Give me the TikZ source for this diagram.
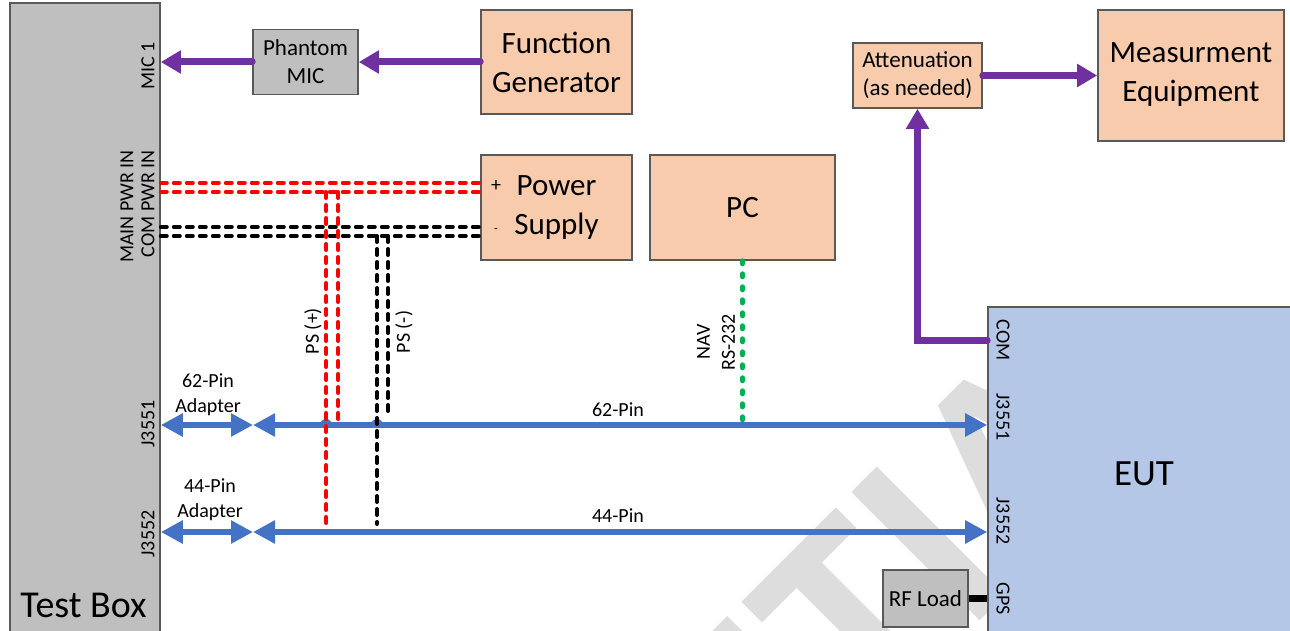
\documentclass[tikz,border=0pt]{standalone}
\usepackage{fontspec}
\setmainfont{Carlito}
\usetikzlibrary{arrows.meta}

\definecolor{boxpeach}{HTML}{F8CBAD}
\definecolor{boxgray}{HTML}{BFBFBF}
\definecolor{eutblue}{HTML}{B4C7E7}
\definecolor{rimgray}{HTML}{595959}
\definecolor{sigpurple}{HTML}{7030A0}
\definecolor{cableblue}{HTML}{4472C4}
\definecolor{navgreen}{HTML}{00B050}
\definecolor{markgray}{HTML}{DDDDDD}

\tikzset{
  unit/.style={draw=rimgray, line width=0.8pt, fill=boxpeach, align=center,
    inner sep=0pt, font=\fontsize{15.5}{19.5}\selectfont},
  graybox/.style={unit, fill=boxgray},
  small/.style={font=\fontsize{10}{12.5}\selectfont, align=center, inner sep=0pt},
  port/.style={small, rotate=90},
  eutport/.style={small, rotate=-90},
  sig/.style={draw=sigpurple, line width=3.5pt, line cap=round,
    -{Triangle[length=10pt,width=11pt]}},
  cable/.style={draw=cableblue, line width=3pt,
    {Triangle[length=11pt,width=11pt]}-{Triangle[length=11pt,width=11pt]}},
  pwrpos/.style={draw=red, line width=2pt, line cap=round, dash pattern=on 3pt off 3.5pt},
  pwrneg/.style={pwrpos, draw=black},
  serial/.style={draw=navgreen, line width=2.5pt, line cap=round, dash pattern=on 1.5pt off 5pt},
}

\begin{document}
\begin{tikzpicture}[x=0.5pt, y=-0.5pt]
  \useasboundingbox (0,0) rectangle (1290,631);
  \clip (0,0) rectangle (1290,631);

  % watermark behind everything, only left of the EUT
  \begin{scope}
    \clip (0,0) rectangle (988,631);
    \node[rotate=45, anchor=base west, inner sep=0pt, text=markgray,
      font=\fontsize{140}{140}\selectfont\bfseries] (mark) at (868,733) {\llap{N}TIAL};
  \end{scope}

  % test box and its ports
  \node[graybox, minimum width=75pt, minimum height=321pt] (testbox) at (85,324) {};
  \node[font=\fontsize{19}{22}\selectfont, anchor=base west, inner sep=0pt] (tblabel) at (20,617) {Test Box};
  \node[port] (mic) at (148,66) {MIC 1};
  \node[port, anchor=east] (mainpwr) at (127,150) {MAIN PWR IN};
  \node[port, anchor=east] (compwr) at (148,150) {COM PWR IN};
  \node[port] (tb51) at (148,424) {J3551};
  \node[port] (tb52) at (148,534) {J3552};

  % equipment
  \node[graybox, font=\fontsize{11.5}{14}\selectfont, minimum width=52.5pt, minimum height=32.5pt] (phantom) at (305.5,62) {Phantom\\MIC};
  \node[unit, minimum width=75.5pt, minimum height=52pt] (funcgen) at (556.5,62) {Function\\Generator};
  \node[unit, minimum width=75.5pt, minimum height=52.5pt, text depth=2pt] (psu) at (556.5,207.5) {Power\\Supply};
  \node[font=\fontsize{10}{12}\selectfont, inner sep=0pt] (plus) at (496,186) {+};
  \node[font=\fontsize{6}{7}\selectfont, inner sep=0pt] (minus) at (496,231) {-};
  \node[unit, minimum width=92.5pt, minimum height=52.5pt] (pc) at (742.5,207.5) {PC};
  \node[unit, font=\fontsize{11.5}{14}\selectfont, minimum width=64.5pt, minimum height=32.5pt] (atten) at (917.5,75.5) {Attenuation\\(as needed)};
  \node[unit, minimum width=93pt, minimum height=65.5pt, text depth=3pt] (meas) at (1191,75.5) {Measurment\\Equipment};

  % power taps
  \coordinate (redA) at (326,192);
  \coordinate (redB) at (338,192);
  \coordinate (blkA) at (377,236);
  \coordinate (blkB) at (388,236);
  \coordinate (j51) at (253,425);
  \coordinate (j52) at (253,532);

  % EUT
  \node[unit, fill=eutblue, font=\fontsize{18.5}{22}\selectfont, minimum width=156pt, minimum height=166.5pt] (eut) at (1144,473.5) {EUT};
  \node[eutport] (eutcom) at (1003,340) {COM};
  \node[eutport] (eut51) at (1003,417) {J3551};
  \node[eutport] (eut52) at (1003,521) {J3552};
  \node[eutport] (eutgps) at (1003,599) {GPS};
  \node[graybox, font=\fontsize{11.5}{14}\selectfont, minimum width=42.5pt, minimum height=28.5pt] (rfload) at (925.5,598.5) {RF Load};
  \draw[line width=3.5pt] (rfload.east) -- (eut.west |- rfload.east);

  % audio / measurement path
  \draw[sig] (phantom.west) -- (testbox.east |- phantom.west);
  \draw[sig] (funcgen.west) -- (phantom.east);
  \draw[sig] (eut.west |- eutcom) -| (atten.south);
  \draw[sig] (atten.east) -- (meas.west |- atten.east);

  % harness cables
  \draw[cable] (testbox.east |- j51) -- (j51);
  \draw[cable] (j51) -- (eut.west |- j51);
  \draw[cable] (testbox.east |- j52) -- (j52);
  \draw[cable] (j52) -- (eut.west |- j52);
  \fill[cableblue] (redA |- j51) ++(-6,0) arc[start angle=180, end angle=360, radius=6];
  \fill[cableblue] (blkA |- j51) ++(-6,0) arc[start angle=180, end angle=360, radius=6];
  \node[small] (ad62) at (208,395) {62-Pin\\Adapter};
  \node[small] (pin62) at (618,410) {62-Pin};
  \node[small] (ad44) at (210,500) {44-Pin\\Adapter};
  \node[small] (pin44) at (618,516) {44-Pin};

  % supply wiring
  \draw[pwrpos] (testbox.east |- 0,183) -- (psu.west |- 0,183);
  \draw[pwrpos] (testbox.east |- 0,192) -- (psu.west |- 0,192);
  \draw[pwrneg] (testbox.east |- 0,227) -- (psu.west |- 0,227);
  \draw[pwrneg] (testbox.east |- 0,236) -- (psu.west |- 0,236);
  \draw[pwrpos] (redA) -- ([yshift=4pt]redA |- j52);
  \draw[pwrpos] (redB) -- ([yshift=2pt]redB |- j51);
  \draw[pwrneg] (blkA) -- ([yshift=4pt]blkA |- j52);
  \draw[pwrneg] (blkB) -- ([yshift=5pt]blkB |- j51);
  \node[port] (psplus) at (313,331) {PS (+)};
  \node[port] (psminus) at (404,332) {PS (-)};

  % serial link
  \draw[serial] (pc.south) -- (pc.south |- j51);
  \node[port] (nav) at (716,342) {NAV\\RS-232};
\end{tikzpicture}
\end{document}
